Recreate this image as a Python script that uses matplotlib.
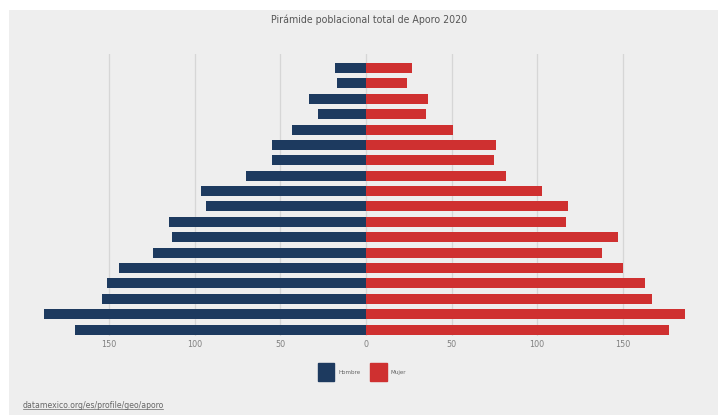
import matplotlib.pyplot as plt
import matplotlib.patches as mpatches
import numpy as np

# grupos de edad, de abajo (jóvenes) hacia arriba
grupos = ["0-4", "5-9", "10-14", "15-19", "20-24", "25-29", "30-34", "35-39", "40-44",
          "45-49", "50-54", "55-59", "60-64", "65-69", "70-74", "75-79", "80-84", "85+"]
hombre = [170, 188, 154, 151, 144, 124, 113, 115, 93, 96, 70, 55, 55, 43, 28, 33, 17, 18]
mujer = [177, 186, 167, 163, 150, 138, 147, 117, 118, 103, 82, 75, 76, 51, 35, 36, 24, 27]
ticks = [-150, -100, -50, 0, 50, 100, 150]

col_h = "#1d3a5f"
col_m = "#cf3030"
fondo = "#eeeeee"

plt.rcParams['font.family'] = ['DejaVu Sans']
plt.rcParams['font.stretch'] = 'condensed'

fig = plt.figure(figsize=(7.18, 4.15), dpi=100, facecolor="white")
# panel gris de fondo
fig.patches.append(mpatches.Rectangle((9 / 718, 0), 1, 1 - 10 / 415, transform=fig.transFigure,
                                      facecolor=fondo, edgecolor="none", zorder=-5))

ax = fig.add_axes([30 / 718, 1 - 336 / 415, 670 / 718, (336 - 54) / 415])
ax.set_facecolor("none")
ax.set_zorder(2)

y = np.arange(len(grupos))
ax.barh(y, -np.array(hombre), height=0.65, color=col_h, zorder=3)
ax.barh(y, mujer, height=0.65, color=col_m, zorder=3)

ax.set_xlim(-196, 195)
ax.set_ylim(-0.42, len(grupos) - 1 + 0.91)
ax.set_xticks(ticks)
ax.set_xticklabels([str(abs(t)) for t in ticks], color="#808080", fontsize=6.5)
ax.set_yticks([])
ax.tick_params(axis="x", length=0, pad=3)
ax.grid(axis="x", color="#d6d6d6", linewidth=0.9, zorder=1)
for s in ax.spines.values():
    s.set_visible(False)

fig.text(369 / 718, 1 - 20 / 415, "Pirámide poblacional total de Aporo 2020",
         ha="center", va="center", fontsize=7.6, color="#555555")

handles = [mpatches.Patch(color=col_h), mpatches.Patch(color=col_m)]
fig.legend(handles, ["Hombre", "Mujer"], loc="center", bbox_to_anchor=(362 / 718, 1 - 372 / 415),
           ncol=2, frameon=False, fontsize=4.5, handlelength=2.7, handleheight=3.9,
           handletextpad=0.7, columnspacing=1.4, labelcolor="#666666")

fig.text(23 / 718, 1 - 405 / 415, "datamexico.org/es/profile/geo/aporo",
         ha="left", va="center", fontsize=6.2, color="#666666")
fig.add_artist(plt.Line2D([23 / 718, 163 / 718], [1 - 409 / 415, 1 - 409 / 415],
                          transform=fig.transFigure, color="#666666", linewidth=0.5))

fig.savefig("out.png", dpi=100, facecolor=fig.get_facecolor())
